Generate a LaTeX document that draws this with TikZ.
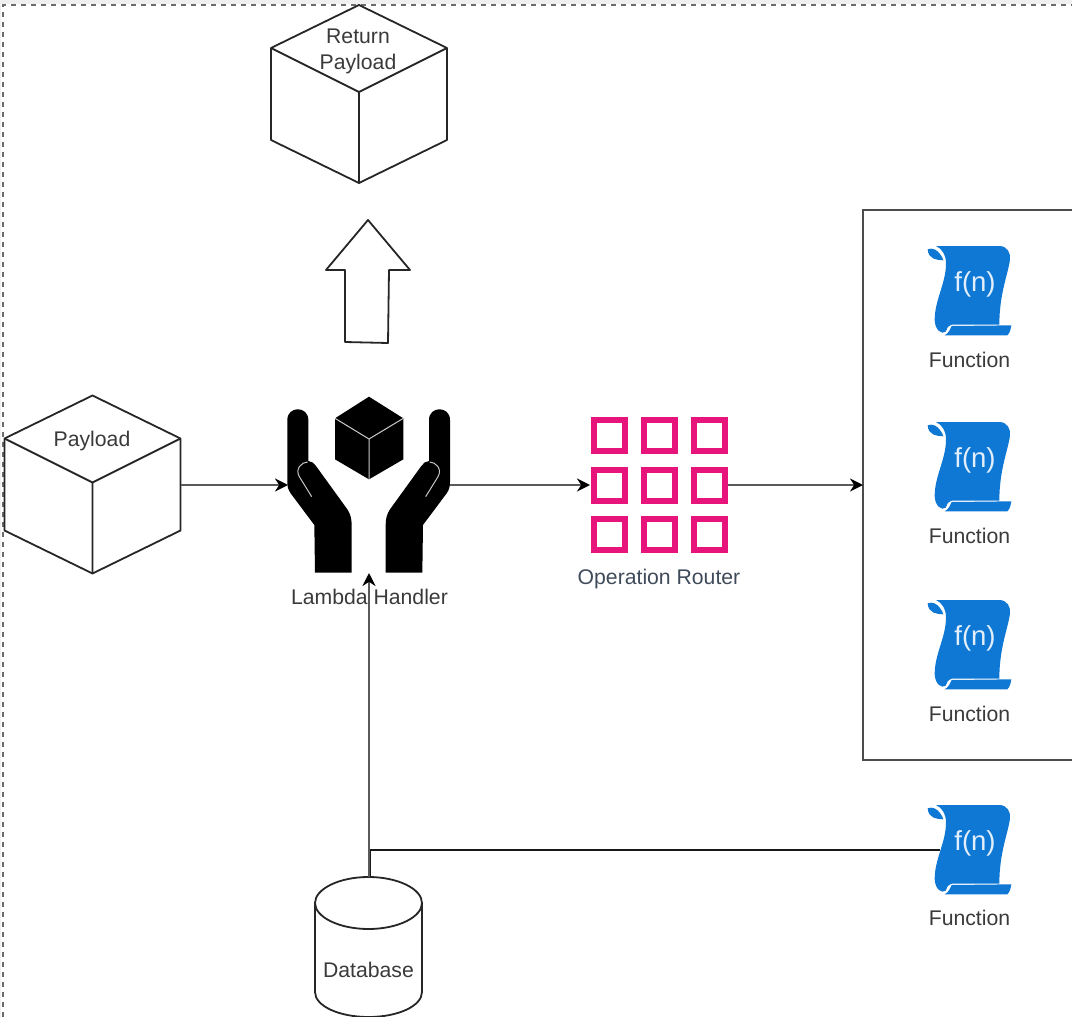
\documentclass[tikz,border=0pt]{standalone}
\usepackage{fontspec}
\setmainfont{Liberation Sans}
\usetikzlibrary{arrows.meta}
\definecolor{fnblue}{HTML}{0F78D4}
\definecolor{routerpink}{HTML}{E7157B}
\definecolor{routertext}{HTML}{3F4B5A}
\definecolor{lbl}{HTML}{3A3A3A}
\definecolor{linegray}{HTML}{5A5A5A}
\tikzset{
  lbltext/.style={font=\fontsize{21.2}{25}\selectfont,text=lbl,inner sep=0pt,align=center},
  anchorbox/.style={inner sep=0pt,outer sep=0pt,minimum width=#1},
  outline/.style={draw=black!85,line width=1.8pt,line join=round},
  flow/.style={draw=linegray,line width=2.6pt,-{Stealth[length=13pt,width=13pt,color=black]}},
  cubeicon/.pic={
    \draw[outline,fill=white] (0,-89) -- (88,-46) -- (88,46) -- (0,89) -- (-88,46) -- (-88,-46) -- cycle;
    \draw[outline] (-88,-46) -- (0,-2) -- (88,-46) (0,-2) -- (0,89);
  },
  handicon/.pic={
    \begin{scope}[scale=1/3]
    \fill[black] (52,120) .. controls (52,77) and (115,77) .. (115,120) -- (115,243)
      .. controls (125,243) and (132,250) .. (138,258) -- (232,388)
      .. controls (241,402) and (245,415) .. (245,435) -- (245,578) -- (135,578) -- (133,435)
      -- (62,340) .. controls (54,328) and (52,320) .. (52,305) -- cycle;
    \draw[gray!45,line width=1pt] (125,350) -- (88,290) .. controls (74,266) and (96,246) .. (113,246);
    \end{scope}
  },
  fnicon/.pic={
    \begin{scope}[scale=1/3]
    \fill[fnblue] (108,48) -- (300,48) .. controls (322,50) and (332,68) .. (330,88)
      .. controls (325,130) and (298,190) .. (298,284) -- (155,284)
      .. controls (142,288) and (140,298) .. (137,305)
      .. controls (125,315) and (105,300) .. (104,270)
      .. controls (104,210) and (138,160) .. (138,100)
      .. controls (138,75) and (125,55) .. (108,48) -- cycle;
    \fill[fnblue] (83,58) .. controls (97,52) and (112,60) .. (120,72)
      .. controls (126,80) and (129,86) .. (130,91)
      .. controls (110,90) and (85,88) .. (83,58) -- cycle;
    \fill[fnblue] (155,288) -- (334,286) .. controls (332,300) and (328,310) .. (322,316)
      -- (134,316) .. controls (146,310) and (150,298) .. (155,288) -- cycle;
    \end{scope}
    \node[font=\fontsize{27.5}{30}\selectfont,text=white!88!fnblue,inner sep=0pt] at (75,54) {f(n)};
  }
}
\begin{document}
\begin{tikzpicture}[x=1pt,y=-1pt]
\useasboundingbox (0,0) rectangle (1072,1017);
% window edge
\fill[black!6] (0,0) rectangle (1072,3.5);
\fill[black!6] (0,0) rectangle (1.2,1017);
\draw[gray!85!black,line width=1.9pt,dash pattern=on 5pt off 5pt] (3,1017) -- (3,5) -- (1072,5);

% anchors for the connected shapes
\node[anchorbox=177pt,minimum height=177pt] (payload) at (92.5,485) {};
\node[anchorbox=162pt,minimum height=176pt] (hands) at (369,485) {};
\node[anchorbox=138pt,minimum height=138pt] (router) at (659,485) {};
\node[anchorbox=209pt,minimum height=550pt] (fnbox) at (967.5,485) {};
\node[anchorbox=58pt,minimum height=90pt] (fnlast) at (969,850) {};
\node[anchorbox=107pt,minimum height=140pt] (db) at (369,947) {};

% return payload
\pic at (359,94) {cubeicon};
\node[lbltext] (retlabel) at (358,51) {Return\\[1pt]Payload};
% big arrow
\draw[outline,fill=white] (368,220) -- (410,270) -- (389,270) -- (388,343) -- (345,342) -- (345,270) -- (326,270) -- cycle;

% payload
\pic at (92.5,484.5) {cubeicon};
\node[lbltext] (payloadlabel) at (92,441.5) {Payload};

% lambda handler
\pic at (270,380) {handicon};
\pic[xscale=-1] at (467.33,380) {handicon};
\begin{scope}[shift={(270,380)},scale=1/3]
  \fill[black] (297,50) -- (400,115) -- (400,238) -- (297,298) -- (195,238) -- (195,115) -- cycle;
  \draw[gray!40,line width=1pt] (195,115) -- (297,177) -- (400,115) (297,177) -- (297,298);
\end{scope}
\node[lbltext] (hlabel) at (369.5,597) {Lambda Handler};

% router
\foreach \cx in {609.5,659.5,709.5}
  \foreach \cy in {435.5,485.5,534.5}
    \draw[routerpink,line width=6.5pt] (\cx-15.5,\cy-15.5) rectangle (\cx+15.5,\cy+15.5);
\node[lbltext,text=routertext] (rlabel) at (659,579.5) {Operation Router};

% function group
\draw[draw=black!70,line width=2.2pt] (fnbox.north east) -- (fnbox.north west) -- (fnbox.south west) -- (fnbox.south east);
\foreach \dy/\ly/\nm in {0/360/fa,176/536/fb,354/714/fc,559/918/fd} {
  \pic at (900,230+\dy) {fnicon};
  \node[lbltext] (\nm) at (969.5,\ly) {Function};
}

% database
\draw[outline,fill=white] (315,903) -- (315,992) .. controls (315,1006) and (339,1017) .. (368.5,1017)
  .. controls (398,1017) and (422,1006) .. (422,992) -- (422,903)
  .. controls (422,889) and (398,877) .. (368.5,877) .. controls (339,877) and (315,889) .. (315,903) -- cycle;
\draw[outline] (315,903) .. controls (315,917) and (339,929) .. (368.5,929) .. controls (398,929) and (422,917) .. (422,903);
\node[lbltext] (dblabel) at (368.5,970) {Database};

% connectors
\draw[draw=black!90,line width=1.8pt] (fnlast.west) -| ([xshift=1pt]db.north);
\draw[flow] (payload.east) -- (hands.west);
\draw[flow] (hands.east) -- (router.west);
\draw[flow] (router.east) -- (fnbox.west);
\draw[flow] (db.north) -- (hands.south);
\end{tikzpicture}
\end{document}
